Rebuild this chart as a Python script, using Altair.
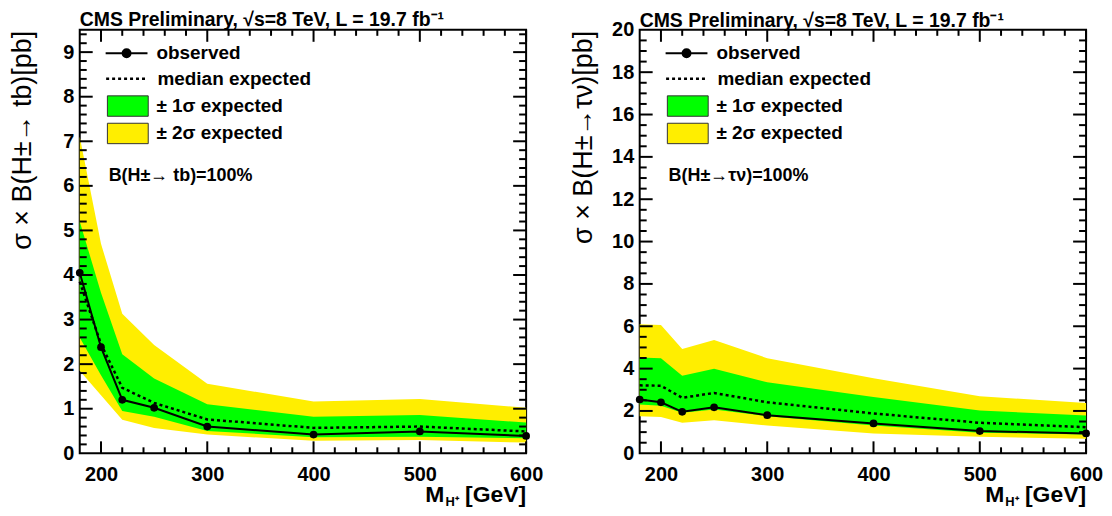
import altair as alt
import pandas as pd

# ---------------- data ----------------
masses = [180, 200, 220, 250, 300, 400, 500, 600]

tb_obs = [4.05, 2.38, 1.20, 1.02, 0.60, 0.42, 0.49, 0.39]
tb_exp = [3.85, 2.45, 1.47, 1.13, 0.76, 0.57, 0.60, 0.49]
tb_up1 = [5.20, 3.60, 2.22, 1.68, 1.10, 0.82, 0.86, 0.69]
tb_dn1 = [2.60, 1.75, 0.95, 0.82, 0.50, 0.36, 0.37, 0.34]
tb_up2 = [7.10, 4.70, 3.13, 2.43, 1.56, 1.16, 1.22, 1.02]
tb_dn2 = [1.85, 1.30, 0.75, 0.57, 0.42, 0.28, 0.30, 0.24]

tn_obs = [2.54, 2.41, 1.96, 2.17, 1.80, 1.41, 1.05, 0.94]
tn_exp = [3.21, 3.19, 2.62, 2.85, 2.41, 1.88, 1.44, 1.23]
tn_up1 = [4.52, 4.49, 3.66, 3.99, 3.35, 2.66, 2.02, 1.78]
tn_dn1 = [2.30, 2.25, 1.91, 2.07, 1.75, 1.31, 0.97, 0.89]
tn_up2 = [6.09, 6.06, 4.92, 5.35, 4.49, 3.55, 2.69, 2.38]
tn_dn2 = [1.75, 1.72, 1.44, 1.56, 1.31, 0.94, 0.78, 0.69]

series_labels = ["observed", "median expected", "± 1σ expected", "± 2σ expected"]
header = "CMS Preliminary, √s=8 TeV, L = 19.7 fb⁻¹"
y_titles = ["σ × B(H±→ tb)[pb]", "σ × B(H±→τν)[pb]"]
notes = ["B(H±→ tb)=100%", "B(H±→τν)=100%"]
xtitle_parts = ["M", "H⁺", "[GeV]"]

x_labels = [200, 300, 400, 500, 600]
x_minor = [v for v in range(200, 600, 20) if v % 100 != 0]
tb_y_labels = [0, 1, 2, 3, 4, 5, 6, 7, 8, 9]
tn_y_labels = [0, 2, 4, 6, 8, 10, 12, 14, 16, 18, 20]

# ---------------- style ----------------
W, H = 448, 425
FONT = "Liberation Sans"
GREEN = "#00ff00"
YELLOW = "#ffee00"


def panel(obs, exp, up1, dn1, up2, dn2, ymax, ymaj, ymin_step, ytitle, note,
          title_x, head_offset):
    n_min = int(round(ymax / ymin_step))
    ymin_vals = [round(i * ymin_step, 3) for i in range(1, n_min + 1)]
    ymin_vals = [v for v in ymin_vals if v not in ymaj and v < ymax]
    ymj_vals = [v for v in ymaj if 0 < v < ymax]

    rows = []
    for i, m in enumerate(masses):
        rows.append({"kind": "main", "m": m, "obs": obs[i], "exp": exp[i],
                     "up1": up1[i], "dn1": dn1[i], "up2": up2[i], "dn2": dn2[i],
                     "lo": series_labels[0], "le": series_labels[1],
                     "b1": series_labels[2], "b2": series_labels[3]})
    for kind, vals in (("xmaj", x_labels), ("xmin", x_minor),
                       ("ymaj", ymj_vals), ("ymin", ymin_vals)):
        for v in vals:
            rows.append({"kind": kind, "tv": v})
    df = pd.DataFrame(rows)

    xs = alt.Scale(domain=[180, 600], nice=False, zero=False)
    ys = alt.Scale(domain=[0, ymax], nice=False, zero=False)
    xaxis = alt.Axis(values=x_labels, title=None, ticks=False, domain=False, grid=False,
                     labelFont=FONT, labelFontWeight="bold", labelFontSize=20,
                     labelColor="black", labelPadding=11, labelFlush=False,
                     labelOverlap=False)
    yaxis = alt.Axis(values=ymaj, title=None, ticks=False, domain=False, grid=False,
                     labelFont=FONT, labelFontWeight="bold", labelFontSize=20,
                     labelColor="black", labelPadding=6, labelFlush=False,
                     labelOverlap=False)

    def X(f):
        return alt.X(f"{f}:Q", scale=xs, axis=xaxis)

    def Y(f):
        return alt.Y(f"{f}:Q", scale=ys, axis=yaxis)

    base = alt.Chart(df)
    main = base.transform_filter(alt.datum.kind == "main")

    fill_scale = alt.Scale(domain=series_labels[2:], range=[GREEN, YELLOW])
    band_legend = alt.Legend(
        title=None, orient="none", legendX=37.25, legendY=65.5, padding=0,
        symbolType="M-2,-1H2V1H-2Z", symbolSize=420,
        symbolStrokeColor="#333333", symbolStrokeWidth=1, symbolOpacity=1,
        labelFont=FONT, labelFontSize=19, labelFontWeight="bold", labelColor="black",
        labelOffset=17.75, rowPadding=1.5)

    band2 = main.mark_area(opacity=1).encode(
        x=X("m"), y=Y("dn2"), y2="up2:Q",
        fill=alt.Fill("b2:N", scale=fill_scale, legend=band_legend))
    band1 = main.mark_area(opacity=1).encode(
        x=X("m"), y=Y("dn1"), y2="up1:Q",
        fill=alt.Fill("b1:N", scale=fill_scale, legend=band_legend))

    dash_legend = alt.Legend(
        title=None, orient="none", legendX=35.5, legendY=37, padding=0,
        symbolType="M-2,0H2", symbolSize=441, symbolStrokeColor="black",
        symbolStrokeWidth=2.5,
        labelFont=FONT, labelFontSize=19, labelFontWeight="bold", labelColor="black",
        labelOffset=18.5)
    exp_line = main.mark_line(color="black", strokeWidth=2.5).encode(
        x=X("m"), y=Y("exp"),
        strokeDash=alt.StrokeDash("le:N", scale=alt.Scale(domain=[series_labels[1]],
                                                          range=[[3, 3]]),
                                  legend=dash_legend))

    obs_legend = alt.Legend(
        title=None, orient="none", legendX=35.5, legendY=12, padding=0,
        symbolType="M-2,0H2M-0.38,0A0.38,0.38,0,1,1,0.38,0A0.38,0.38,0,1,1,-0.38,0Z",
        symbolSize=441, symbolStrokeColor="black", symbolFillColor="black",
        symbolStrokeWidth=2,
        labelFont=FONT, labelFontSize=19, labelFontWeight="bold", labelColor="black",
        labelOffset=18.5)
    obs_line = main.mark_line(color="black", strokeWidth=2).encode(
        x=X("m"), y=Y("obs"),
        opacity=alt.Opacity("lo:O", scale=alt.Scale(domain=[series_labels[0]], range=[1]),
                            legend=obs_legend))
    obs_pts = main.mark_circle(color="black", size=60, opacity=1).encode(
        x=X("m"), y=Y("obs"))

    # inward ROOT-style ticks on all four sides
    def xt(kind, yc, ln):
        return base.transform_filter(alt.datum.kind == kind).mark_tick(
            color="black", orient="vertical", size=ln, thickness=2, opacity=1).encode(
            x=X("tv"), y=alt.value(yc))

    def yt(kind, xc, ln):
        return base.transform_filter(alt.datum.kind == kind).mark_tick(
            color="black", orient="horizontal", size=ln, thickness=2, opacity=1).encode(
            y=Y("tv"), x=alt.value(xc))

    ticks = [
        xt("xmaj", H - 6, 12), xt("xmaj", 6, 12), xt("xmin", H - 3, 6), xt("xmin", 3, 6),
        yt("ymaj", 6.5, 13), yt("ymaj", W - 6.5, 13), yt("ymin", 3.5, 7),
        yt("ymin", W - 3.5, 7),
    ]

    def txt(s, size, weight, align, xv, yv, angle=0):
        return alt.Chart(pd.DataFrame({"t": [s]})).mark_text(
            font=FONT, fontSize=size, fontWeight=weight, color="black", align=align,
            baseline="middle", angle=angle).encode(
            text="t:N", x=alt.value(xv), y=alt.value(yv))

    note_txt = txt(note, 18, "bold", "left", 29, 147)
    ytitle_txt = txt(ytitle, 27, "normal", "right", title_x, 1, 270)
    xt_m = txt(xtitle_parts[0], 23, "bold", "right", W - 82, H + 42)
    xt_s = txt(xtitle_parts[1], 13, "bold", "left", W - 81, H + 49)
    xt_g = txt(xtitle_parts[2], 23, "bold", "right", W, H + 42)

    return alt.layer(band2, band1, exp_line, obs_line, obs_pts, *ticks,
                     note_txt, ytitle_txt, xt_m, xt_s, xt_g).properties(
        width=W, height=H,
        title=alt.TitleParams(header, anchor="start", frame="group", font=FONT,
                              fontSize=19.5, fontWeight="bold", color="black",
                              offset=head_offset))


left = panel(tb_obs, tb_exp, tb_up1, tb_dn1, tb_up2, tb_dn2, 9.5, tb_y_labels, 0.2,
             y_titles[0], notes[0], -57, -1)
right = panel(tn_obs, tn_exp, tn_up1, tn_dn1, tn_up2, tn_dn2, 20, tn_y_labels, 0.5,
              y_titles[1], notes[1], -56, -11.5)

chart = alt.hconcat(left, right, spacing=25).resolve_scale(
    fill="independent", strokeDash="independent", opacity="independent",
    x="independent", y="independent"
).resolve_legend(
    fill="independent", strokeDash="independent", opacity="independent"
).configure_view(stroke="black", strokeWidth=2).properties(
    padding={"left": 0, "top": 0, "right": 0, "bottom": 0},
    background="white")

chart.save("out.html", embed_options={"renderer": "svg", "actions": False})
